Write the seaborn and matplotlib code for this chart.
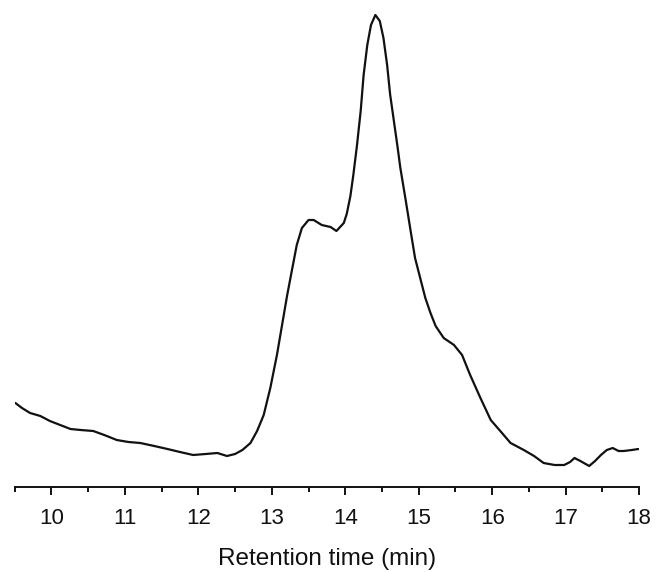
import matplotlib
matplotlib.use("Agg")
import matplotlib.pyplot as plt
import seaborn as sns
import pandas as pd
from matplotlib.ticker import MultipleLocator

retention_time = [9.51, 9.60, 9.71, 9.85, 9.98, 10.12, 10.26, 10.40, 10.57, 10.72,
                  10.89, 11.05, 11.21, 11.40, 11.58, 11.75, 11.93, 12.10, 12.26, 12.39,
                  12.50, 12.60, 12.71, 12.80, 12.89, 12.98, 13.07, 13.14, 13.21, 13.28,
                  13.34, 13.41, 13.50, 13.57, 13.68, 13.80, 13.88, 13.98, 14.02, 14.07,
                  14.11, 14.16, 14.21, 14.25, 14.30, 14.35, 14.41, 14.47, 14.52, 14.57,
                  14.61, 14.66, 14.71, 14.75, 14.82, 14.89, 14.95, 15.02, 15.09, 15.16,
                  15.23, 15.34, 15.48, 15.59, 15.70, 15.84, 15.98, 16.11, 16.25, 16.43,
                  16.57, 16.70, 16.85, 16.98, 17.06, 17.12, 17.20, 17.32, 17.40, 17.48,
                  17.56, 17.64, 17.72, 17.79, 17.90, 17.99]
signal = [83, 78, 73, 70, 65, 61, 57, 56, 55, 51,
          46, 44, 43, 40, 37, 34, 31, 32, 33, 30,
          32, 36, 43, 55, 71, 98, 131, 161, 191, 218,
          241, 258, 266, 266, 261, 259, 255, 263, 272, 290,
          311, 341, 375, 411, 441, 461, 471, 465, 448, 421,
          392, 366, 340, 318, 287, 255, 228, 208, 188, 173,
          160, 148, 141, 131, 111, 88, 66, 55, 43, 36,
          30, 23, 21, 21, 24, 28, 25, 20, 25, 31,
          36, 38, 35, 35, 36, 37]

df = pd.DataFrame({"Retention time (min)": retention_time, "signal": signal})

sns.set_theme(style="white")
plt.rcParams['font.family'] = ['Liberation Sans', 'DejaVu Sans']

fig = plt.figure(figsize=(6.56, 5.72), dpi=100)
ax = fig.add_axes([0.0223, 0.1486, 0.952, 0.8514])
sns.lineplot(data=df, x="Retention time (min)", y="signal", ax=ax,
             color="#111111", linewidth=1.6)

ax.set_xlim(9.5, 18)
ax.set_ylim(-1, 486)
ax.set_yticks([])
ax.set_ylabel("")
for s in ["top", "left", "right"]:
    ax.spines[s].set_visible(False)
ax.spines["bottom"].set_color("#111111")
ax.spines["bottom"].set_linewidth(1.4)
ax.xaxis.set_major_locator(MultipleLocator(1))
ax.xaxis.set_minor_locator(MultipleLocator(0.5))
ax.tick_params(axis="x", which="major", direction="out", length=5.8, width=1.4,
               color="#111111", labelsize=16, pad=9, bottom=True)
ax.tick_params(axis="x", which="minor", direction="out", length=3.6, width=1.4,
               color="#111111", bottom=True)
ax.set_xlabel("Retention time (min)", fontsize=17.5, labelpad=14, color="#111111")
for lbl in ax.get_xticklabels():
    lbl.set_color("#111111")

fig.savefig("out.png", dpi=100)
